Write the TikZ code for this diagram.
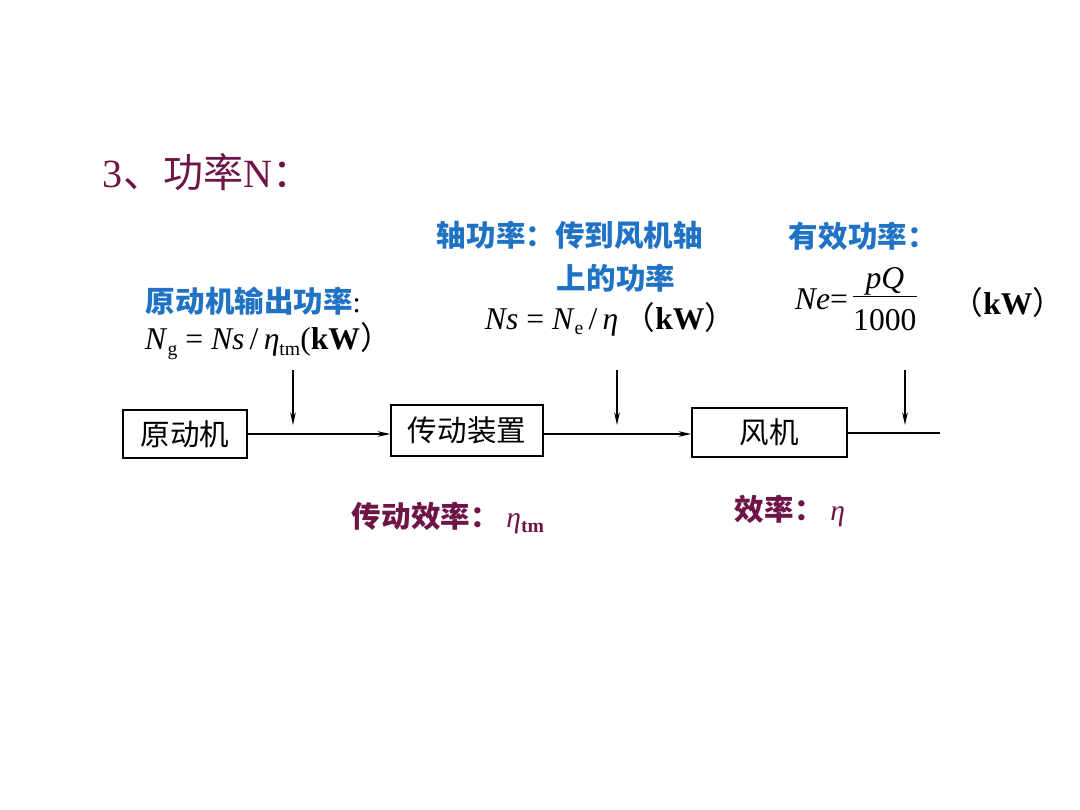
\documentclass[tikz,border=0pt]{standalone}
\usepackage{fontspec}
\setmainfont{Liberation Serif}
\newfontfamily\cjk{Noto Sans CJK SC}
\usetikzlibrary{arrows.meta}
\definecolor{maroon}{HTML}{6E1446}
\definecolor{titleblue}{HTML}{1F72C4}
\newcommand{\lowtxt}[1]{\raisebox{-0.4ex}{\fontsize{14}{16}\selectfont\upshape #1}}
\tikzset{
  box/.style={draw, line width=1.1pt, inner sep=0pt, font=\cjk\fontsize{21}{24}\selectfont},
  flow/.style={line width=1pt, -{Stealth[length=9pt,width=4pt]}},
  bluetext/.style={text=titleblue, font=\cjk\bfseries\fontsize{21}{24}\selectfont},
  redtext/.style={text=maroon, font=\cjk\bfseries\fontsize{21}{24}\selectfont},
  formula/.style={font=\fontsize{22.5}{26}\selectfont}
}
\begin{document}
\begin{tikzpicture}[x=0.025cm, y=-0.025cm]
        \useasboundingbox (0,0) rectangle (1080,810);
        % Titolo
        \node[anchor=west, text=maroon, font=\fontsize{28.5}{32}\selectfont] (title) at (98,172) {3{\cjk 、功率}N{\cjk ：}};

        % Blocchi
        \node[box, minimum width=124*0.025cm, minimum height=48*0.025cm] (motore) at (185,434) {原动机};
        \node[box, minimum width=152*0.025cm, minimum height=51*0.025cm] (trasm) at (467,430.5) {传动装置};
        \node[box, minimum width=155*0.025cm, minimum height=49*0.025cm] (fan) at (769.5,432.5) {风机};
        \coordinate (fine) at (940,433);

        % Collegamenti tra i blocchi
        \draw[flow] (motore.east) -- (motore.east -| trasm.west);
        \draw[flow] (trasm.east |- 0,434) -- (fan.west |- 0,434);
        \draw[line width=1pt] (fan.east |- fine) -- (fine);

        % Frecce verticali
        \coordinate (p1) at (293,370);
        \coordinate (p2) at (617,370);
        \coordinate (p3) at (905,370);
        \foreach \p in {p1, p2, p3}
            \draw[flow] (\p) -- ++(0,55);

        % Etichette di potenza
        \node[bluetext, anchor=west] (lblg) at (141,301) {原动机输出功率{\rmfamily\mdseries\color{black}:}};
        \node[formula, anchor=west] (fg) at (140,341) {\textit{N}\lowtxt{g} = \textit{Ns}\,/\,\textit{η}\lowtxt{tm}(\textbf{kW}{\cjk ）}};

        \node[bluetext, anchor=west] (lbls) at (432,235) {轴功率：传到风机轴};
        \node[bluetext] (lbls2) at (616,278) {上的功率};
        \node[formula, anchor=west] (fs) at (480,319) {\textit{Ns} = \textit{N}\lowtxt{e}\,/\,\textit{η}\,{\cjk （}\textbf{kW}{\cjk ）}};

        \node[bluetext, anchor=west] (lble) at (784,236) {有效功率：};
        \node[formula, anchor=west] (fe) at (790,302) {\textit{Ne}=\,$\vcenter{\hbox{\begin{tabular}{@{}c@{}}\textit{pQ}\\[-2pt]\hline\rule{0pt}{24pt}1000\end{tabular}}}$};
        \node[formula] (kw) at (1008,302) {{\cjk （}\textbf{kW}{\cjk ）}};

        % Rendimenti
        \node[redtext, anchor=west] (etatm) at (347,518) {传动效率：\ {\rmfamily\mdseries\itshape η}{\rmfamily\bfseries\upshape\lowtxt{\bfseries tm}}};
        \node[redtext, anchor=west] (eta) at (730,511) {效率：\ {\rmfamily\mdseries\itshape η}};
\end{tikzpicture}
\end{document}
